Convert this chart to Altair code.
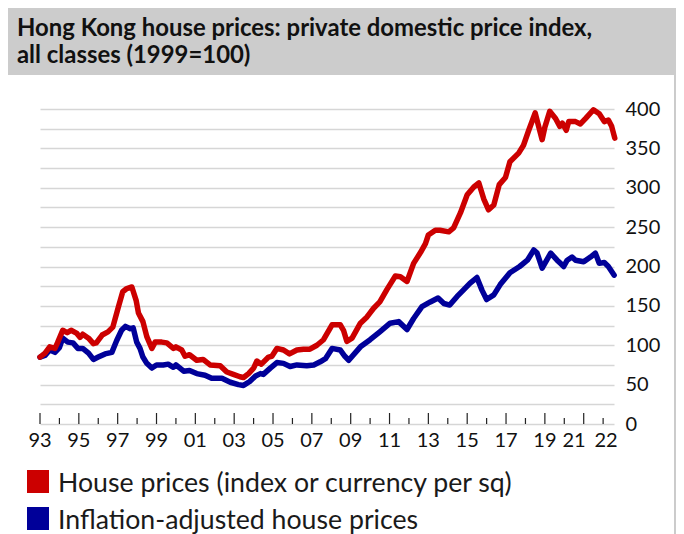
import altair as alt
import pandas as pd

# ---------------- data ----------------
title_lines = ["Hong Kong house prices: private domestic price index,", "all classes (1999=100)"]
series_names = ["House prices (index or currency per sq)", "Inflation-adjusted house prices"]
series_colors = ["#cc0000", "#000099"]

house_years = [1993.0, 1993.26, 1993.5, 1993.77, 1993.9, 1994.17, 1994.4, 1994.6, 1994.9, 1995.06,
               1995.2, 1995.5, 1995.75, 1995.9, 1996.2, 1996.5, 1996.75, 1997.04, 1997.26, 1997.47,
               1997.73, 1997.95, 1998.07, 1998.3, 1998.5, 1998.76, 1998.93, 1999.27, 1999.53, 1999.87,
               2000.0, 2000.3, 2000.47, 2000.7, 2001.07, 2001.4, 2001.76, 2002.28, 2002.62, 2002.96,
               2003.3, 2003.48, 2003.74, 2004.0, 2004.17, 2004.4, 2004.77, 2004.94, 2005.2, 2005.54,
               2005.85, 2006.23, 2006.57, 2006.9, 2007.26, 2007.6, 2008.04, 2008.46, 2008.63, 2008.8,
               2009.07, 2009.5, 2009.84, 2010.18, 2010.5, 2010.87, 2011.3, 2011.56, 2011.9, 2012.24,
               2012.6, 2012.85, 2013.0, 2013.36, 2013.6, 2014.05, 2014.3, 2014.65, 2015.0, 2015.34,
               2015.6, 2015.85, 2016.1, 2016.37, 2016.65, 2016.97, 2017.2, 2017.65, 2017.9, 2018.17,
               2018.5, 2018.86, 2019.0, 2019.25, 2019.55, 2019.77, 2019.9, 2020.1, 2020.23, 2020.58,
               2020.83, 2021.1, 2021.5, 2021.8, 2022.06, 2022.27, 2022.44, 2022.6]
house_values = [85, 90, 98, 96, 103, 119, 116, 119, 115, 110,
                114, 109, 102, 103, 113, 117, 123, 149, 168, 172,
                174, 157, 141, 130, 111, 96, 104, 104, 103, 96,
                98, 94, 86, 88, 81, 82, 75, 74, 66, 63,
                60, 59, 64, 71, 80, 76, 85, 86, 96, 94,
                89, 94, 95, 95, 100, 107, 126, 126, 119, 105,
                109, 128, 136, 147, 155, 171, 188, 187, 181, 204,
                218, 229, 240, 246, 246, 244, 249, 268, 291, 301,
                306, 286, 272, 278, 304, 313, 333, 344, 354, 373,
                395, 361, 377, 397, 388, 378, 382, 373, 384, 384,
                381, 388, 399, 394, 384, 386, 378, 363]

real_years = [1993.0, 1993.26, 1993.5, 1993.77, 1994.0, 1994.17, 1994.43, 1994.7, 1994.95, 1995.2,
              1995.5, 1995.75, 1996.0, 1996.35, 1996.7, 1996.95, 1997.2, 1997.4, 1997.65, 1997.8,
              1997.98, 1998.15, 1998.3, 1998.5, 1998.76, 1999.0, 1999.35, 1999.6, 1999.87, 2000.0,
              2000.4, 2000.7, 2001.07, 2001.5, 2001.84, 2002.37, 2002.8, 2003.22, 2003.48, 2003.8,
              2004.1, 2004.35, 2004.5, 2004.86, 2005.2, 2005.54, 2005.88, 2006.23, 2006.74, 2007.1,
              2007.43, 2007.7, 2008.04, 2008.46, 2008.7, 2008.9, 2009.5, 2010.0, 2010.5, 2011.03,
              2011.47, 2011.9, 2012.24, 2012.67, 2013.1, 2013.5, 2013.8, 2014.1, 2014.48, 2014.8,
              2015.15, 2015.5, 2015.76, 2016.0, 2016.37, 2016.7, 2017.2, 2017.7, 2018.1, 2018.43,
              2018.6, 2018.86, 2019.3, 2019.63, 2019.8, 2019.97, 2020.15, 2020.4, 2020.58, 2021.0,
              2021.35, 2021.6, 2021.8, 2022.06, 2022.27, 2022.57]
real_values = [85, 87, 94, 91, 97, 109, 104, 103, 96, 96,
               90, 82, 85, 89, 91, 106, 119, 124, 121, 122,
               104, 96, 85, 77, 71, 75, 75, 76, 72, 75,
               67, 68, 64, 62, 58, 58, 53, 50, 49, 54,
               61, 64, 63, 71, 78, 77, 73, 75, 74, 75,
               79, 83, 96, 94, 86, 81, 98, 107, 117, 128,
               130, 120, 134, 149, 155, 160, 153, 151, 162, 170,
               179, 186, 170, 158, 164, 177, 192, 200, 208, 221,
               217, 198, 217, 208, 204, 200, 208, 212, 208, 206,
               212, 217, 204, 205, 200, 189]

# x-axis label positions and texts, tick years
x_label_pos = [1993, 1995, 1997, 1999, 2001, 2003, 2005, 2007, 2009, 2011, 2013, 2015, 2017, 2019,
               2020.5, 2022.15]
x_label_txt = ["93", "95", "97", "99", "01", "03", "05", "07", "09", "11", "13", "15", "17", "19",
               "21", "22"]
major_tick_years = list(range(1993, 2022, 2))
minor_tick_years = list(range(1994, 2023, 2))
y_grid_values = list(range(0, 401, 25))

# ---------------- chart ----------------
df_house = pd.DataFrame({"year": house_years, "value": house_values, "series": series_names[0]})
df_real = pd.DataFrame({"year": real_years, "value": real_values, "series": series_names[1]})
one = pd.DataFrame({"k": [0]})

FONT = "Lato"

x_scale = alt.Scale(domain=[1993, 2022.56], nice=False, zero=False)
y_scale = alt.Scale(domain=[0, 400], nice=False, zero=True)

x_axis = alt.Axis(values=x_label_pos, labels=False, ticks=False, grid=False, domain=True,
                  domainColor="#111111", domainWidth=1.5, title=None)
y_axis = alt.Axis(orient="right", values=y_grid_values,
                  labelExpr="datum.value % 50 == 0 ? datum.label : ''",
                  ticks=False, domain=False, grid=True, gridColor="#d6d6d6", gridWidth=1.3,
                  labelFont=FONT, labelFontSize=20, labelColor="#111111", labelAlign="left",
                  labelBaseline="middle", labelPadding=11, labelFlush=False, labelOverlap=False,
                  title=None)

X = alt.X("year:Q", scale=x_scale, axis=x_axis)
Y = alt.Y("value:Q", scale=y_scale, axis=y_axis)

border = alt.Chart(one).mark_rect(fill=None, stroke="#aaaaaa", strokeWidth=1.2).encode(
    x=alt.value(-33), x2=alt.value(635), y=alt.value(-104), y2=alt.value(440))
title_box = alt.Chart(one).mark_rect(fill="#cccccc", stroke=None).encode(
    x=alt.value(-33), x2=alt.value(635), y=alt.value(-104), y2=alt.value(-34))
title_text = alt.Chart(one).mark_text(align="left", baseline="alphabetic", font=FONT, fontSize=23.9,
                                      fontWeight="bold", lineHeight=27, color="#111111").encode(
    x=alt.value(-23), y=alt.value(-73), text=alt.value(title_lines))

major_ticks = alt.Chart(pd.DataFrame({"year": major_tick_years})).mark_rule(
    color="#222222", strokeWidth=1.2).encode(
    x=alt.X("year:Q", scale=x_scale, axis=None), y=alt.value(315), y2=alt.value(304))
minor_ticks = alt.Chart(pd.DataFrame({"year": minor_tick_years})).mark_rule(
    color="#222222", strokeWidth=1.2).encode(
    x=alt.X("year:Q", scale=x_scale, axis=None), y=alt.value(315), y2=alt.value(309))

x_labels = alt.Chart(pd.DataFrame({"year": x_label_pos, "txt": x_label_txt})).mark_text(
    baseline="top", align="center", font=FONT, fontSize=20, color="#111111").encode(
    x=alt.X("year:Q", scale=x_scale, axis=None), y=alt.value(322), text="txt:N")

line_real = alt.Chart(df_real).mark_line(strokeWidth=5.5, strokeJoin="round", strokeCap="round",
                                         color=series_colors[1]).encode(x=X, y=Y)
line_house = alt.Chart(df_house).mark_line(strokeWidth=5.5, strokeJoin="round", strokeCap="round",
                                           color=series_colors[0]).encode(x=X, y=Y)

# legend (drawn as guide elements)
legend_layers = []
for i, (name, col) in enumerate(zip(series_names, series_colors)):
    top = 361 + i * 37
    legend_layers.append(alt.Chart(one).mark_rect(fill=col).encode(
        x=alt.value(-13), x2=alt.value(9), y=alt.value(top), y2=alt.value(top + 23)))
    legend_layers.append(alt.Chart(one).mark_text(
        align="left", baseline="middle", font=FONT, fontSize=26.7, color="#1a1a1a").encode(
        x=alt.value(18), y=alt.value(top + 14), text=alt.value(name)))

chart = alt.layer(border, title_box, title_text, line_real, line_house, major_ticks, minor_ticks,
                  x_labels, *legend_layers).properties(
    width=574, height=315,
    autosize=alt.AutoSizeParams(type="none"),
    padding={"left": 32, "top": 101, "right": 62, "bottom": 110},
    background="white",
).configure_view(stroke=None)

chart.save("out.html", embed_options={"renderer": "svg", "actions": False})
